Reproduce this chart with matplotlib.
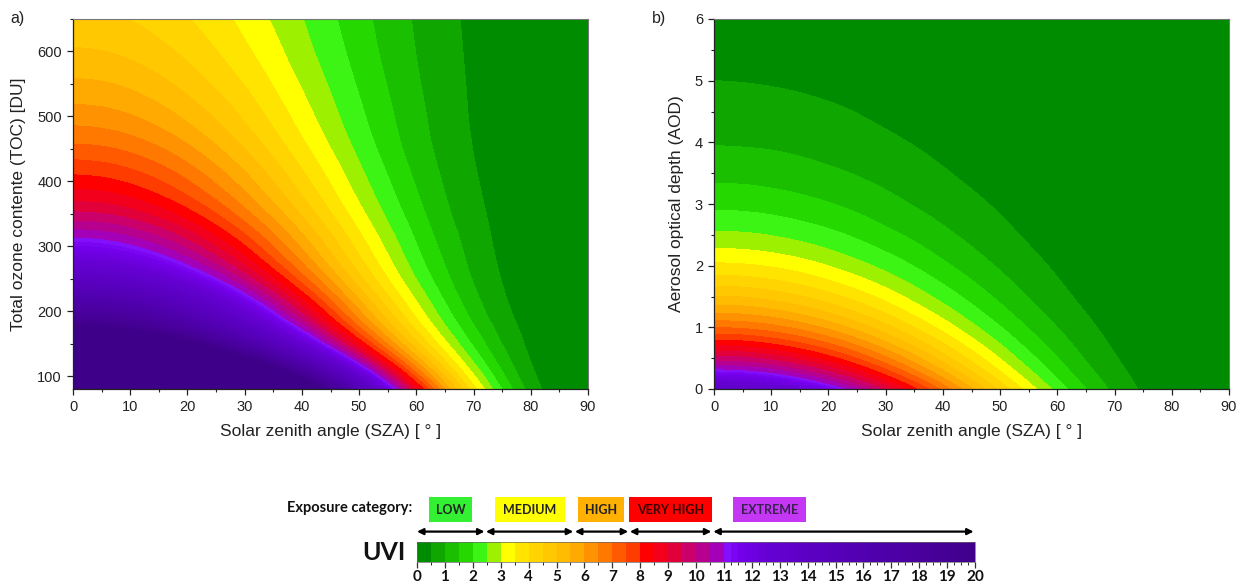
import numpy as np
import matplotlib
matplotlib.use("Agg")
import matplotlib.pyplot as plt
import matplotlib.tri as mtri
import matplotlib.cm as cm
from matplotlib.colors import ListedColormap, BoundaryNorm
from matplotlib.patches import Rectangle
from matplotlib.ticker import MultipleLocator

W, H = 1237, 582

# ---------------- data (UVI) ----------------
sza = [0, 5, 10, 15, 20, 25, 30, 35, 40, 45, 50, 55, 60, 65, 70, 75, 80, 85, 90]

# panel a: rows = total ozone content [DU]
toc = [80, 150, 200, 250, 300, 350, 400, 450, 500, 550, 600, 650]
uvi_toc = [
    [41.5, 41.14, 40.09, 38.39, 36.08, 33.26, 30.03, 26.49, 22.78, 19.03, 15.35, 11.88, 8.72, 5.98, 3.71, 1.98, 0.81, 0.17, 0.0],
    [23.8, 23.59, 22.96, 21.94, 20.56, 18.89, 16.98, 14.89, 12.72, 10.54, 8.42, 6.45, 4.67, 3.14, 1.91, 0.99, 0.39, 0.077, 0.0],
    [17.9, 17.73, 17.24, 16.44, 15.37, 14.07, 12.58, 10.98, 9.32, 7.66, 6.06, 4.59, 3.28, 2.17, 1.29, 0.65, 0.25, 0.045, 0.0],
    [14.1, 13.97, 13.57, 12.93, 12.07, 11.03, 9.84, 8.56, 7.24, 5.93, 4.67, 3.51, 2.49, 1.64, 0.96, 0.48, 0.18, 0.032, 0.0],
    [11.5, 11.39, 11.07, 10.55, 9.84, 8.99, 8.03, 6.98, 5.91, 4.84, 3.81, 2.87, 2.03, 1.34, 0.79, 0.39, 0.14, 0.026, 0.0],
    [9.6, 9.51, 9.24, 8.80, 8.22, 7.51, 6.70, 5.83, 4.93, 4.04, 3.18, 2.39, 1.70, 1.11, 0.66, 0.33, 0.12, 0.022, 0.0],
    [8.22, 8.14, 7.91, 7.54, 7.04, 6.43, 5.74, 4.99, 4.22, 3.46, 2.72, 2.05, 1.45, 0.95, 0.56, 0.28, 0.10, 0.018, 0.0],
    [7.15, 7.08, 6.88, 6.56, 6.12, 5.59, 4.99, 4.34, 3.67, 3.01, 2.37, 1.78, 1.26, 0.83, 0.49, 0.24, 0.09, 0.016, 0.0],
    [6.27, 6.21, 6.04, 5.76, 5.38, 4.93, 4.41, 3.85, 3.26, 2.68, 2.12, 1.61, 1.15, 0.76, 0.45, 0.23, 0.086, 0.016, 0.0],
    [5.6, 5.55, 5.40, 5.15, 4.82, 4.42, 3.97, 3.47, 2.95, 2.44, 1.94, 1.48, 1.06, 0.71, 0.43, 0.22, 0.084, 0.016, 0.0],
    [5.06, 5.01, 4.88, 4.66, 4.37, 4.02, 3.61, 3.17, 2.70, 2.24, 1.79, 1.37, 0.99, 0.67, 0.41, 0.21, 0.083, 0.016, 0.0],
    [4.65, 4.61, 4.49, 4.29, 4.03, 3.71, 3.34, 2.94, 2.52, 2.1, 1.68, 1.3, 0.94, 0.64, 0.39, 0.21, 0.08, 0.017, 0.0],
]

# panel b: rows = aerosol optical depth
aod = [0, 0.25, 0.5, 1, 1.5, 2, 2.5, 3, 3.5, 4, 5, 6]
uvi_aod = [
    [13.5, 13.37, 12.98, 12.36, 11.52, 10.51, 9.35, 8.12, 6.84, 5.58, 4.37, 3.27, 2.31, 1.50, 0.875, 0.43, 0.155, 0.027, 0.0],
    [11.45, 11.34, 11.0, 10.46, 9.73, 8.86, 7.87, 6.80, 5.71, 4.63, 3.61, 2.68, 1.87, 1.20, 0.69, 0.33, 0.11, 0.02, 0.0],
    [9.71, 9.61, 9.32, 8.85, 8.23, 7.47, 6.61, 5.70, 4.77, 3.85, 2.98, 2.19, 1.52, 0.96, 0.54, 0.25, 0.085, 0.012, 0.0],
    [6.98, 6.91, 6.69, 6.34, 5.87, 5.31, 4.68, 4.0, 3.32, 2.65, 2.03, 1.47, 1.0, 0.62, 0.34, 0.15, 0.046, 0.006, 0.0],
    [5.02, 4.97, 4.8, 4.54, 4.19, 3.78, 3.31, 2.81, 2.31, 1.83, 1.38, 0.98, 0.65, 0.39, 0.21, 0.088, 0.025, 0.003, 0.0],
    [3.61, 3.57, 3.45, 3.26, 2.99, 2.68, 2.34, 1.98, 1.61, 1.26, 0.94, 0.66, 0.43, 0.25, 0.13, 0.052, 0.014, 0.001, 0.0],
    [2.6, 2.57, 2.48, 2.33, 2.14, 1.91, 1.65, 1.39, 1.12, 0.87, 0.64, 0.44, 0.28, 0.16, 0.08, 0.031, 0.007, 0.001, 0.0],
    [1.87, 1.85, 1.78, 1.67, 1.53, 1.36, 1.17, 0.97, 0.78, 0.60, 0.44, 0.3, 0.185, 0.104, 0.049, 0.018, 0.004, 0.0, 0.0],
    [1.34, 1.33, 1.28, 1.2, 1.09, 0.97, 0.83, 0.68, 0.54, 0.41, 0.30, 0.20, 0.12, 0.066, 0.031, 0.011, 0.002, 0.0, 0.0],
    [0.97, 0.95, 0.92, 0.86, 0.78, 0.69, 0.58, 0.48, 0.38, 0.28, 0.20, 0.13, 0.08, 0.043, 0.019, 0.006, 0.001, 0.0, 0.0],
    [0.5, 0.49, 0.47, 0.44, 0.4, 0.35, 0.29, 0.24, 0.18, 0.14, 0.093, 0.06, 0.035, 0.017, 0.007, 0.002, 0.0, 0.0, 0.0],
    [0.26, 0.25, 0.24, 0.23, 0.2, 0.18, 0.15, 0.12, 0.089, 0.064, 0.043, 0.027, 0.015, 0.006, 0.002, 0.0, 0.0, 0.0, 0.0],
]

uvi_ticks = list(range(0, 21))
categories = ["LOW", "MEDIUM", "HIGH", "VERY HIGH", "EXTREME"]
category_ranges = [(0.0, 2.42), (2.47, 5.6), (5.66, 7.57), (7.63, 10.55), (10.62, 19.95)]

# ---------------- colour scale ----------------
band_colors = ['#008c00', '#10a600', '#1abf00', '#24d800', '#3cf514', '#9cf000',
               '#ffff00', '#ffe400', '#ffd400', '#ffc800', '#ffbc00', '#ffaa00',
               '#ff9200', '#ff7800', '#ff5a00', '#ff3c00', '#ff0000', '#f2001c',
               '#e2003a', '#cc006a', '#b8008f', '#a400b8']
bounds = list(np.arange(0, 11.01, 0.5))
anchor_v = [11.0, 11.5, 12.5, 14.0, 17.0, 20.0]
anchor_c = [(135, 20, 255), (118, 0, 238), (102, 0, 212), (92, 0, 196), (76, 0, 166), (64, 0, 138)]
for v in np.arange(11.25, 20.01, 0.25):
    mid = v - 0.125
    rgb = [np.interp(mid, anchor_v, [c[i] for c in anchor_c]) / 255 for i in range(3)]
    band_colors.append(tuple(rgb))
    bounds.append(float(v))
cmap = ListedColormap(band_colors)
cmap.set_under(band_colors[0])
cmap.set_over((62 / 255, 0, 136 / 255))
norm = BoundaryNorm(bounds, cmap.N)

plt.rcParams['font.family'] = ['Liberation Sans', 'DejaVu Sans']
LEG_FONT = ['Lato', 'DejaVu Sans']

fig = plt.figure(figsize=(W / 100, H / 100), dpi=100)


def grid_triangles(nx, ny):
    tris = []
    for j in range(ny - 1):
        for i in range(nx - 1):
            a = j * nx + i
            b = a + 1
            c = a + nx
            d = c + 1
            tris.append([a, b, d])
            tris.append([a, d, c])
    return np.array(tris)


def field(ax, xs, ys, table):
    X, Y = np.meshgrid(np.asarray(xs, float), np.asarray(ys, float))
    Z = np.asarray(table, float)
    tri = mtri.Triangulation(X.ravel(), Y.ravel(), grid_triangles(len(xs), len(ys)))
    interp = mtri.CubicTriInterpolator(tri, Z.ravel(), kind='min_E')
    tr, zr = mtri.UniformTriRefiner(tri).refine_field(Z.ravel(), triinterpolator=interp, subdiv=5)
    ax.tricontourf(tr, zr, levels=bounds, cmap=cmap, norm=norm, extend='both',
                   antialiased=False)


def style(ax):
    ax.set_xlim(0, 90)
    ax.xaxis.set_major_locator(MultipleLocator(10))
    ax.xaxis.set_minor_locator(MultipleLocator(5))
    ax.tick_params(which='major', direction='out', length=4.5, width=0.9,
                   labelsize=10.5, labelcolor='#222222', color='#222222')
    ax.tick_params(which='minor', direction='out', length=2.5, width=0.8, color='#222222')
    for s in ['left', 'bottom']:
        ax.spines[s].set_color('#222222')
        ax.spines[s].set_linewidth(0.9)
    for s in ['top', 'right']:
        ax.spines[s].set_color('#777777')
        ax.spines[s].set_linewidth(0.8)
    ax.set_xlabel('Solar zenith angle (SZA) [ ° ]', fontsize=12.5, color='#222222', labelpad=7)


ax1 = fig.add_axes([73 / W, 1 - 389 / H, 515 / W, 370 / H])
field(ax1, sza, toc, uvi_toc)
style(ax1)
ax1.set_ylim(80, 650)
ax1.yaxis.set_major_locator(MultipleLocator(100))
ax1.yaxis.set_minor_locator(MultipleLocator(50))
ax1.set_ylabel('Total ozone contente (TOC) [DU]', fontsize=12.5, color='#222222', labelpad=8)

ax2 = fig.add_axes([714 / W, 1 - 389 / H, 515 / W, 370 / H])
field(ax2, sza, aod, uvi_aod)
style(ax2)
ax2.set_ylim(0, 6)
ax2.yaxis.set_major_locator(MultipleLocator(1))
ax2.yaxis.set_minor_locator(MultipleLocator(0.5))
ax2.set_ylabel('Aerosol optical depth (AOD)', fontsize=12.5, color='#222222', labelpad=8)

fig.text(10 / W, 1 - 19 / H, 'a)', fontsize=11.5, va='center', ha='left', color='#222222')
fig.text(652 / W, 1 - 19 / H, 'b)', fontsize=11.5, va='center', ha='left', color='#222222')

# ---------------- colour bar ----------------
cax = fig.add_axes([417 / W, 1 - 562 / H, 558 / W, 20 / H])
cb = fig.colorbar(cm.ScalarMappable(norm=norm, cmap=cmap), cax=cax, orientation='horizontal',
                  spacing='proportional', ticks=uvi_ticks, extend='neither')
cb.outline.set_linewidth(0.5)
cb.outline.set_edgecolor('#666666')
cax.tick_params(direction='out', length=4, width=0.9, color='#333333', pad=1.5)
cax.set_xticklabels([str(t) for t in uvi_ticks], fontsize=11, fontweight='bold',
                    family=LEG_FONT, color='#111111')

for (u0, u1) in category_ranges:
    cax.annotate('', xy=(u1, 1.52), xytext=(u0, 1.52), xycoords=('data', 'axes fraction'),
                 textcoords=('data', 'axes fraction'), annotation_clip=False,
                 arrowprops=dict(arrowstyle='<|-|>', color='black', lw=1.6,
                                 mutation_scale=9, shrinkA=0, shrinkB=0))

ov = fig.add_axes([0, 0, 1, 1], facecolor='none')
ov.set_xlim(0, W)
ov.set_ylim(H, 0)
ov.axis('off')
box_x = [(429, 472), (495, 565), (578, 624), (629, 712), (733, 806)]
box_fc = ['#33f033', '#ffff00', '#ffb000', '#ff0000', '#c438f5']
box_tc = ['#222222', '#222222', '#222222', '#3a0000', '#3a2050']
for name, (x0, x1), fc, tc in zip(categories, box_x, box_fc, box_tc):
    ov.add_patch(Rectangle((x0, 497), x1 - x0, 25, facecolor=fc, edgecolor='none'))
    ov.text((x0 + x1) / 2, 510, name, ha='center', va='center', fontsize=9,
            fontweight='bold', color=tc, family=LEG_FONT)
ov.text(412, 508, 'Exposure category:', ha='right', va='center', fontsize=10.5,
        fontweight='bold', color='#111111', family=LEG_FONT)
ov.text(405, 552, 'UVI', ha='right', va='center', fontsize=18,
        fontweight='bold', color='#111111', family=LEG_FONT)

fig.savefig('out.png', dpi=100)
